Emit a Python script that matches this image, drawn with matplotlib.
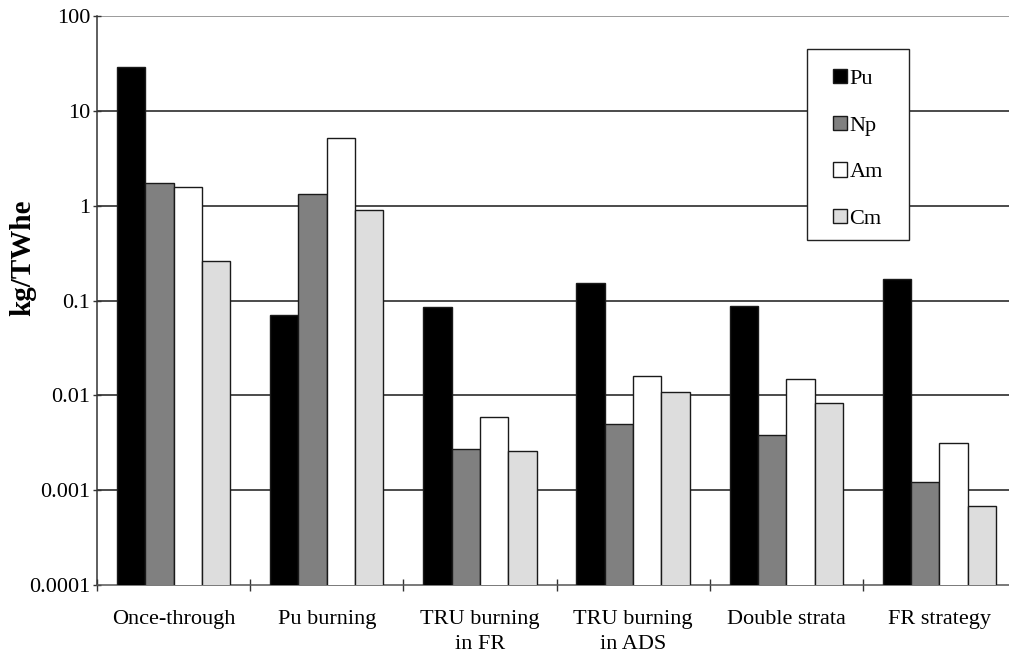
import matplotlib
matplotlib.use("Agg")
import matplotlib.pyplot as plt
import numpy as np
from matplotlib.ticker import FixedLocator, FuncFormatter, NullLocator
from matplotlib.patches import Rectangle

categories = ["Once-through", "Pu burning", "TRU burning\nin FR", "TRU burning\nin ADS",
              "Double strata", "FR strategy"]
series_names = ["Pu", "Np", "Am", "Cm"]
pu = [28.9, 0.0711, 0.0845, 0.152, 0.0866, 0.168]
np_vals = [1.74, 1.34, 0.00269, 0.00498, 0.00384, 0.00121]
am = [1.57, 5.19, 0.00594, 0.0158, 0.0148, 0.00316]
cm = [0.264, 0.892, 0.00256, 0.0108, 0.0083, 0.000673]
y_ticks = [1e-4, 1e-3, 1e-2, 1e-1, 1, 10, 100]

colors = ["#000000", "#808080", "#ffffff", "#dddddd"]

plt.rcParams['font.family'] = ['Liberation Serif', 'DejaVu Serif']

W, H = 1009, 655
fs = 16
fig = plt.figure(figsize=(W / 100, H / 100), dpi=100)
left, right, top, bottom = 97, 1016, 16, 585
ax = fig.add_axes([left / W, 1 - bottom / H, (right - left) / W, (bottom - top) / H])

x = np.arange(len(categories))
bw = 0.185
data = [pu, np_vals, am, cm]
for i, (vals, name, c) in enumerate(zip(data, series_names, colors)):
    ax.bar(x + (i - 1.5) * bw, vals, width=bw, color=c, edgecolor="#1a1a1a",
           linewidth=1.0, label=name, zorder=3)

ax.set_yscale("log")
ax.set_ylim(1e-4, 100)
ax.set_xlim(-0.5, len(categories) - 0.5)

# gridlines
for yt in y_ticks[1:]:
    ax.axhline(yt, color="#808080" if yt == 100 else "#1a1a1a", lw=1.1, zorder=1)

for s in ["top", "right"]:
    ax.spines[s].set_visible(False)
ax.spines["left"].set_color("#333333")
ax.spines["bottom"].set_color("#555555")
ax.spines["left"].set_linewidth(1.1)
ax.spines["bottom"].set_linewidth(1.1)

ax.yaxis.set_major_locator(FixedLocator(y_ticks))
ax.yaxis.set_minor_locator(NullLocator())
ax.yaxis.set_major_formatter(FuncFormatter(lambda v, p: f"{v:g}"))
ax.tick_params(axis="y", which="major", direction="inout", length=6, width=1,
               color="#333333", labelsize=fs, pad=2)

ax.set_xticks(x)
ax.set_xticklabels(categories, linespacing=1.4)
ax.set_xticks(np.arange(len(categories) + 1) - 0.5, minor=True)
ax.tick_params(axis="x", which="major", length=0, labelsize=fs, pad=18)
ax.tick_params(axis="x", which="minor", direction="inout", length=9, width=1, color="#333333")

ax.set_ylabel("kg/TWhe", fontsize=21, fontweight="bold")
ax.yaxis.set_label_coords(-0.066, 0.576)

# legend box
box = Rectangle((807 / W, 1 - 240 / H), (909 - 807) / W, (240 - 49) / H,
                transform=fig.transFigure, facecolor="white", edgecolor="#222222",
                linewidth=1.0, zorder=5)
ax.add_patch(box)
box.set_clip_on(False)

leg = ax.legend(loc="upper left", bbox_to_anchor=(833 / W, 1 - 69 / H),
                bbox_transform=fig.transFigure, borderaxespad=0, borderpad=0,
                fontsize=fs, frameon=False,
                handlelength=0.62, handleheight=0.62, handletextpad=0.12,
                labelspacing=1.2)
leg.set_zorder(10)

fig.savefig("out.png", dpi=100)
